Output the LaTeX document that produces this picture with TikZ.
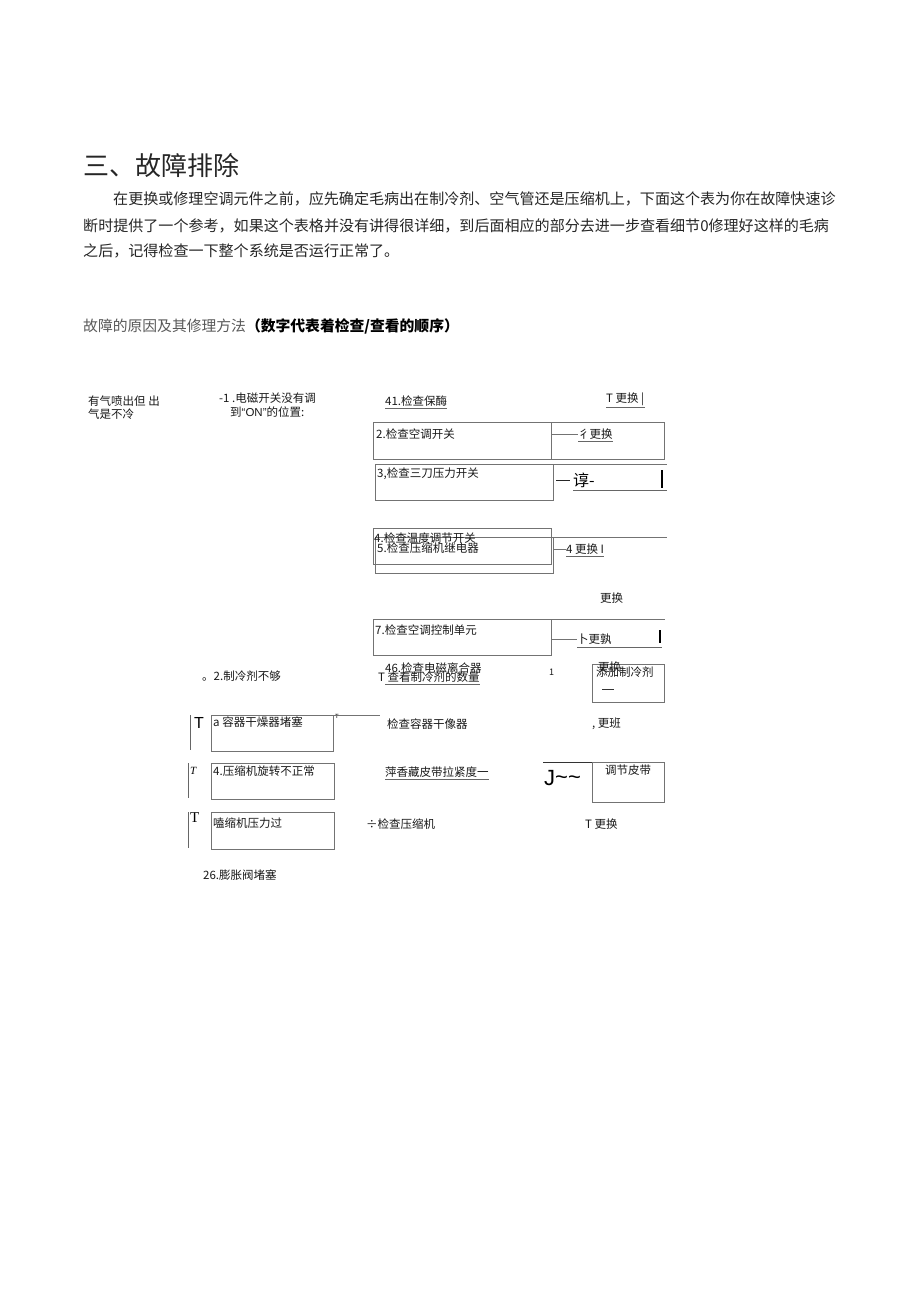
\documentclass[tikz,border=0pt]{standalone}
\usepackage{fontspec}
\setmainfont{Noto Sans CJK SC}
\newfontfamily\serifT{Liberation Serif}
\newfontfamily\arialT{Liberation Sans}
\newcommand\dgfont{\fontsize{11.5}{13}\selectfont}
\newcommand\pgfont{\fontsize{15.05}{18}\selectfont}
\begin{document}
\begin{tikzpicture}[x=1pt,y=-1pt,
  lbl/.style={anchor=west, inner sep=0pt, font=\dgfont, text=black!90},
  para/.style={anchor=west, inner sep=0pt, font=\pgfont, text=black!85},
  boxn/.style={draw=black!55, line width=0.9pt, inner sep=0pt, anchor=north west},
  conn/.style={draw=black!55, line width=0.9pt},
  uline/.style={draw=black!60, line width=0.8pt},
  bar/.style={draw=black, line width=2.2pt},
  tbar/.style={draw=black!60, line width=0.9pt}]
\fill[white] (0,0) rectangle (920,1301);
\useasboundingbox (0,0) rectangle (920,1301);

% title and paragraph
\node[anchor=west, inner sep=0pt, font=\fontsize{26}{30}\selectfont, text=black!85] (title) at (83,166) {三、故障排除};
\node[para] (p1) at (113,199) {在更换或修理空调元件之前，应先确定毛病出在制冷剂、空气管还是压缩机上，下面这个表为你在故障快速诊};
\node[para] (p2) at (83,226) {断时提供了一个参考，如果这个表格并没有讲得很详细，到后面相应的部分去进一步查看细节0修理好这样的毛病};
\node[para] (p3) at (83,251) {之后，记得检查一下整个系统是否运行正常了。};
\node[anchor=west, inner sep=0pt, font=\fontsize{14.8}{17}\selectfont] (h2) at (83,326)
  {{\color{black!65}故障的原因及其修理方法}\textbf{（数字代表着检查/查看的顺序）}};

% top left column
\node[lbl] (l1) at (88,401) {有气喷出但 出};
\node[lbl] (l2) at (88,414) {气是不冷};
\node[lbl] (s1) at (219,398) {-1 .电磁开关没有调};
\node[lbl] (s2) at (230,412) {到{\arialT “ON”}的位置:};

% check 41
\node[lbl] (c1) at (385,401) {41.检查保酶};
\draw[uline] ([yshift=-2pt]c1.south west) -- ([yshift=-2pt]c1.south east);
\node[lbl] (r1) at (606,399) {T 更换 |};
\draw[uline] ([yshift=-2pt]r1.south west) -- ([yshift=-2pt]r1.south east);

% box 2
\node[boxn, minimum width=178pt, minimum height=37pt] (b2) at (373,422) {};
\node[boxn, minimum width=113pt, minimum height=37pt] (b2r) at (551,422) {};
\node[lbl] (t2) at (376,434) {2.检查空调开关};
\node[lbl] (r2) at (578,434) {彳更换};
\draw[conn] (b2.east |- r2.west) -- (r2.west);
\draw[uline] ([yshift=-2pt]r2.south west) -- ([yshift=-2pt]r2.south east);

% box 3
\node[boxn, minimum width=178pt, minimum height=36pt] (b3) at (375,464) {};
\coordinate (b3e) at (667,464);
\draw[conn] (b3.north east) -- (b3e);
\node[lbl] (t3) at (377,474) {3,检查三刀压力开关};
\node[anchor=west, inner sep=0pt, font=\fontsize{16}{18}\selectfont] (r3) at (573,480) {谆-};
\coordinate (r3e) at (667,490);
\draw[conn, draw=black!85, line width=1pt] ([xshift=-17pt]r3.west) -- ([xshift=-3pt]r3.west);
\draw[uline] (r3.west |- r3e) -- (r3e);
\draw[bar] (662,470) -- (662,488);

% box 4 and 5
\node[boxn, minimum width=178pt, minimum height=36pt] (b4) at (373,528) {};
\node[boxn, minimum width=178pt, minimum height=36pt] (b5) at (375,537) {};
\coordinate (b5e) at (667,537);
\draw[conn] (b5.north east) -- (b5e);
\node[lbl] (t4) at (374,538) {4.检查温度调节开关};
\node[lbl] (t5) at (377,548) {5.检查压缩机继电器};
\node[lbl] (r5) at (566,549) {4 更换 I};
\draw[conn] (b5.east |- r5.west) -- (r5.west);
\draw[uline] ([yshift=-2pt]r5.south west) -- ([yshift=-2pt]r5.south east);
\node[lbl] (r6) at (600,598) {更换};

% box 7
\node[boxn, minimum width=178pt, minimum height=36pt] (b7) at (373,619) {};
\coordinate (b7e) at (665,619);
\draw[conn] (b7.north east) -- (b7e);
\node[lbl] (t7) at (375,630) {7.检查空调控制单元};
\node[lbl] (r7) at (577,639) {卜更孰};
\draw[conn] (b7.east |- r7.west) -- (r7.west);
\coordinate (r7e) at (662,647);
\draw[uline] (r7.south west |- r7e) -- (r7e);
\draw[bar] (660,630) -- (660,643);

% refrigerant row
\node[lbl] (q1) at (202,676) {。2.制冷剂不够};
\node[lbl] (q2) at (385,668) {46.检查电磁离合器};
\node[lbl] (q3) at (378,677) {T 查看制冷剂的数量};
\draw[uline] ([yshift=-2pt,xshift=7pt]q3.south west) -- ([yshift=-2pt]q3.south east);
\node[lbl, font=\fontsize{9}{10}\selectfont] (q4) at (549,672) {1};
\node[boxn, minimum width=72pt, minimum height=38pt] (bq) at (592,664) {};
\node[lbl] (bq1) at (596,672) {添加制冷剂};
\node[lbl] (bq2) at (598,667) {更换};
\draw[conn, draw=black!80] (602,689) -- (614,689);

% row a
\draw[tbar] (190,715) -- (190,750);
\node[anchor=west, inner sep=0pt, font=\arialT\fontsize{16}{17}\selectfont] (ta) at (194,723) {T};
\node[boxn, minimum width=122pt, minimum height=36pt] (ba) at (211,715) {};
\node[lbl] (xa) at (213,722) {a 容器干燥器堵塞};
\node[anchor=west, inner sep=0pt, font=\arialT\fontsize{6}{7}\selectfont] (ta2) at (335,716) {T};
\coordinate (bae) at (380,715);
\draw[conn] (ba.north east) -- (bae);
\node[lbl] (ya) at (387,724) {检查容器干像器};
\node[lbl] (za) at (592,724) {, 更班};

% row 4
\draw[tbar] (188,763) -- (188,798);
\node[anchor=west, inner sep=0pt, font=\serifT\itshape\fontsize{11}{12}\selectfont] (t4a) at (190,771) {T};
\node[boxn, minimum width=123pt, minimum height=36pt] (bb) at (211,763) {};
\node[lbl] (xb) at (213,771) {4.压缩机旋转不正常};
\node[lbl] (yb) at (385,772) {萍香藏皮带拉紧度一};
\draw[uline] ([yshift=-2pt]yb.south west) -- ([yshift=-2pt]yb.south east);
\node[anchor=west, inner sep=0pt, font=\arialT\fontsize{22}{24}\selectfont] (jb) at (544,778) {J\raisebox{1pt}{\fontsize{22}{24}\selectfont\~{}\~{}}};
\node[boxn, minimum width=72pt, minimum height=40pt] (bt) at (592,762) {};
\coordinate (jbs) at (543,762);
\draw[conn, draw=black!80] (jbs) -- (bt.north west);
\node[lbl] (zb) at (605,770) {调节皮带};

% row pressure
\draw[tbar] (188,812) -- (188,848);
\node[anchor=west, inner sep=0pt, font=\serifT\fontsize{15}{16}\selectfont] (tc) at (190,818) {T};
\node[boxn, minimum width=123pt, minimum height=37pt] (bc) at (211,812) {};
\node[lbl] (xc) at (213,823) {嗑缩机压力过};
\node[lbl] (yc) at (366,824) {÷检查压缩机};
\node[lbl] (zc) at (585,824) {T 更换};

\node[lbl] (last) at (203,875) {26.膨胀阀堵塞};
\end{tikzpicture}
\end{document}
